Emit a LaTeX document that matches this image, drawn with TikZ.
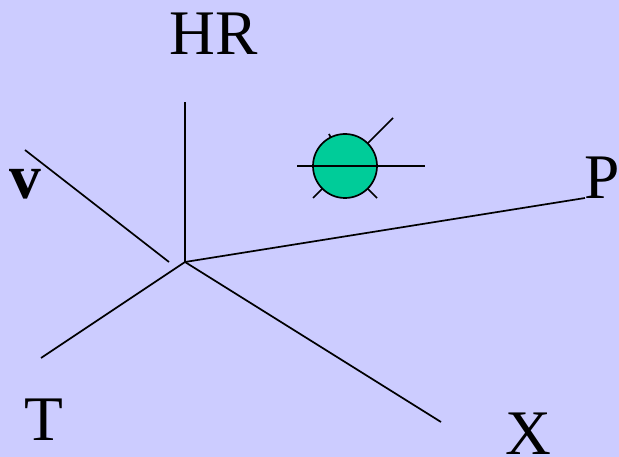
\documentclass[tikz,border=0pt]{standalone}
\usepackage{fontspec}
\setmainfont{Liberation Serif}
\definecolor{bgc}{HTML}{CCCCFF}
\definecolor{ballc}{HTML}{00CC99}
\tikzset{ln/.style={draw=black,line width=1.7pt},lab/.style={inner sep=0pt,anchor=base,font=\fontsize{63.5}{63.5}\selectfont}}
\begin{document}
\begin{tikzpicture}[x=1pt,y=-1pt]
\path[fill=bgc,use as bounding box] (0,0) rectangle (619,457);
\coordinate (o) at (185,262);
\coordinate (hr) at (185,102);
\coordinate (p) at (585,198);
\coordinate (x) at (441,422);
\coordinate (t) at (41,358);
\coordinate (va) at (25,150);
\coordinate (vb) at (169,262);
\draw[ln] (o)--(hr);
\draw[ln] (o)--(p);
\draw[ln] (o)--(x);
\draw[ln] (o)--(t);
\draw[ln] (va)--(vb);
\node[lab] (lhr) at (213.5,54.5) {HR};
\node[lab] (lp) at (602,199) {P};
\node[lab] (lx) at (528,454) {X};
\node[lab] (lt) at (44,440) {T};
\node[lab,font=\fontsize{63.5}{63.5}\selectfont\bfseries] (lv) at (25,199) {v};
\coordinate (c) at (345,166);
\coordinate (h1) at (297,166);
\coordinate (h2) at (425,166);
\coordinate (ur) at (393,118);
\coordinate (ul) at (329,134);
\coordinate (dl) at (313,198);
\coordinate (dr) at (377,198);
\draw[ln] (c)--(ur);
\draw[ln] (c)--(ul);
\draw[ln] (c)--(dl);
\draw[ln] (c)--(dr);
\node[circle,draw=black,line width=1.7pt,fill=ballc,minimum size=64pt,inner sep=0pt] (ball) at (c) {};
\draw[ln] (h1)--(h2);
\end{tikzpicture}
\end{document}
